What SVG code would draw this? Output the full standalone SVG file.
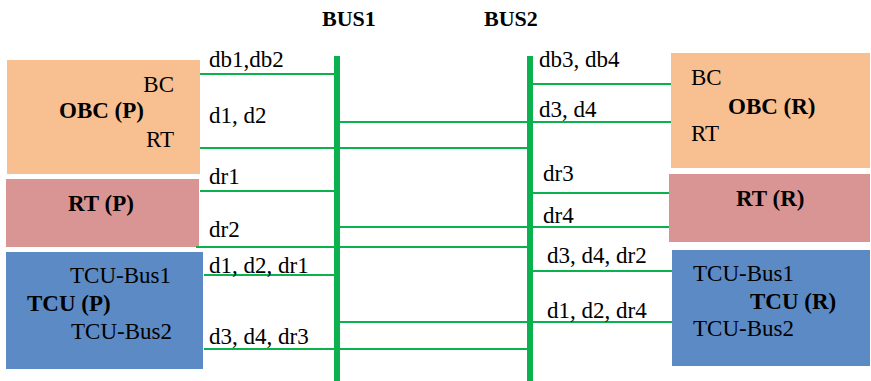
<svg xmlns="http://www.w3.org/2000/svg" width="871" height="381" viewBox="0 0 871 381">
<style>
text{font-family:"Liberation Serif","Times New Roman",serif;font-size:23px;fill:#000}
.b{font-weight:bold}
.obc{fill:#F8BF91}
.rt{fill:#D99594}
.tcu{fill:#5B8AC5}
.bus{stroke:#0BB04F;stroke-width:6}
.ln{stroke:#0BB04F;stroke-width:2;fill:none}
</style>
<rect width="871" height="381" fill="#fff"/>
<text x="322" y="26" class="b" style="font-size:22px">BUS1</text>
<text x="484" y="26" class="b" style="font-size:22px">BUS2</text>
<g id="obc-p"><rect class="obc" x="7" y="60" width="193" height="114"/>
<text x="174" y="92" text-anchor="end">BC</text>
<text x="59" y="118" class="b">OBC (P)</text>
<text x="174" y="147" text-anchor="end">RT</text></g>
<g id="rt-p"><rect class="rt" x="6" y="179" width="193" height="68"/>
<text x="68" y="211" class="b">RT (P)</text></g>
<g id="tcu-p"><rect class="tcu" x="6" y="252" width="197" height="117"/>
<text x="70" y="283">TCU-Bus1</text>
<text x="27" y="311" class="b">TCU (P)</text>
<text x="71" y="339">TCU-Bus2</text></g>
<g id="obc-r"><rect class="obc" x="671" y="53" width="199" height="115"/>
<text x="691" y="85">BC</text>
<text x="728" y="114" class="b">OBC (R)</text>
<text x="691" y="141">RT</text></g>
<g id="rt-r"><rect class="rt" x="669" y="174" width="201" height="68"/>
<text x="736" y="206" class="b">RT (R)</text></g>
<g id="tcu-r"><rect class="tcu" x="672" y="250" width="198" height="116"/>
<text x="693" y="281">TCU-Bus1</text>
<text x="750" y="309" class="b">TCU (R)</text>
<text x="693" y="336">TCU-Bus2</text></g>
<g id="connectors">
<line class="bus" x1="337" y1="56" x2="337" y2="381"/>
<line class="bus" x1="530" y1="56" x2="530" y2="381"/>
<line class="ln" x1="200" y1="74" x2="337" y2="74"/>
<line class="ln" x1="337" y1="122" x2="671" y2="122"/>
<line class="ln" x1="200" y1="148" x2="530" y2="148"/>
<line class="ln" x1="530" y1="84" x2="671" y2="84"/>
<line class="ln" x1="200" y1="191" x2="337" y2="191"/>
<line class="ln" x1="530" y1="193" x2="669" y2="193"/>
<line class="ln" x1="337" y1="227" x2="669" y2="227"/>
<line class="ln" x1="196" y1="247" x2="530" y2="247"/>
<line class="ln" x1="204" y1="275" x2="337" y2="275"/>
<line class="ln" x1="530" y1="271" x2="672" y2="271"/>
<line class="ln" x1="337" y1="322" x2="672" y2="322"/>
<line class="ln" x1="204" y1="349" x2="530" y2="349"/>
</g>
<g id="labels">
<text x="209" y="67">db1,db2</text>
<text x="209" y="123">d1, d2</text>
<text x="209" y="184">dr1</text>
<text x="209" y="237">dr2</text>
<text x="209" y="273">d1, d2, dr1</text>
<text x="209" y="344">d3, d4, dr3</text>
<text x="539" y="67">db3, db4</text>
<text x="539" y="117">d3, d4</text>
<text x="543" y="181">dr3</text>
<text x="543" y="223">dr4</text>
<text x="547" y="263">d3, d4, dr2</text>
<text x="547" y="318">d1, d2, dr4</text>
</g>
</svg>
